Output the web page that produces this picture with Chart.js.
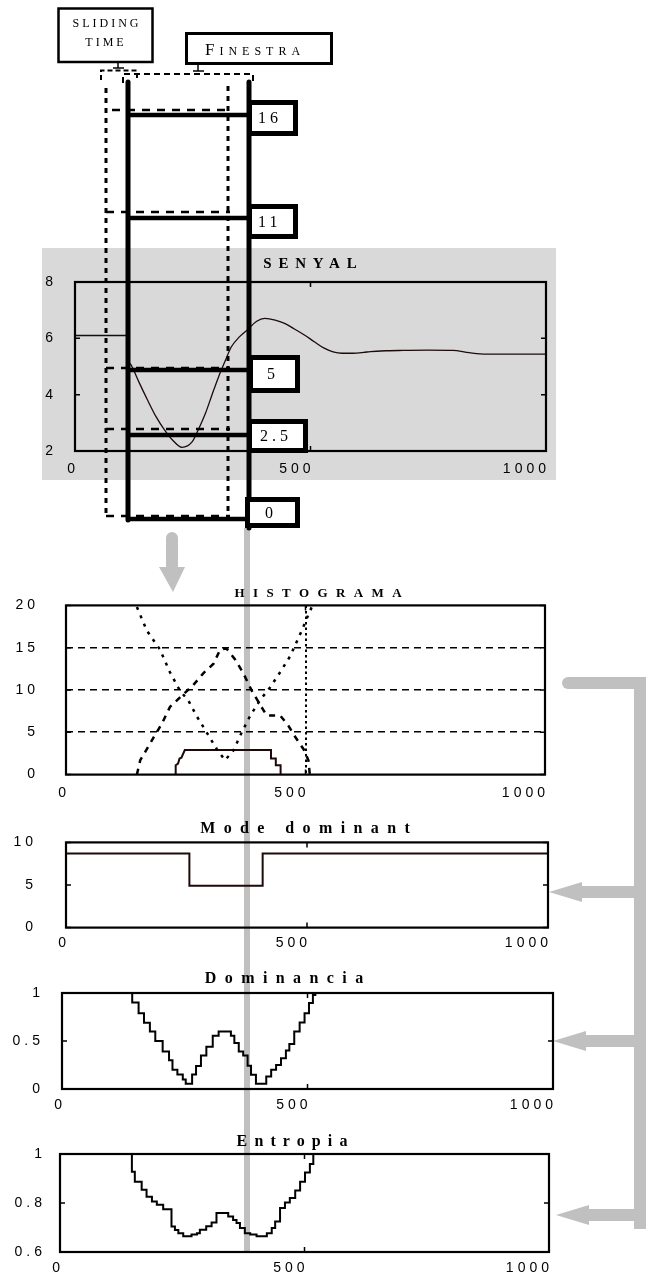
<!DOCTYPE html>
<html>
<head>
<meta charset="utf-8">
<title>Senyal - histograma - mode dominant</title>
<script src="https://cdn.jsdelivr.net/npm/chart.js@4.4.1/dist/chart.umd.min.js"></script>
<style>
  body { margin: 0; background: #fff; }
  #page { position: relative; width: 648px; height: 1278px; overflow: hidden; }
  #page canvas { position: absolute; }
</style>
</head>
<body>
<div id="page">
  <canvas id="back" width="648" height="1278" style="left:0px;top:0px"></canvas>
  <canvas id="senyal" width="514" height="232" style="left:42px;top:248px"></canvas>
  <canvas id="histo" width="648" height="240" style="left:0px;top:570px"></canvas>
  <canvas id="mode" width="648" height="160" style="left:0px;top:805px"></canvas>
  <canvas id="domin" width="648" height="155" style="left:0px;top:965px"></canvas>
  <canvas id="entro" width="648" height="158" style="left:0px;top:1120px"></canvas>
  <canvas id="front" width="648" height="1278" style="left:0px;top:0px"></canvas>
</div>
<script>
// ---- data ----
const senyalX = [0, 110, 113, 119, 137, 154, 172, 190, 207, 227, 249, 263, 277, 291, 305, 319, 332, 349, 366, 385,
                 403, 425, 445, 466, 487, 508, 529, 548, 567, 590, 613, 627, 662, 697, 750, 802, 837, 872, 1000];
const senyalY = [6.1, 6.1, 5.3, 5.06, 4.4, 3.81, 3.22, 2.75, 2.39, 2.13, 2.33, 2.8, 3.34, 4.0, 4.64, 5.2, 5.7, 6.05, 6.3, 6.6,
                 6.71, 6.65, 6.53, 6.33, 6.12, 5.88, 5.65, 5.52, 5.47, 5.47, 5.5, 5.53, 5.56, 5.57, 5.58, 5.57, 5.49, 5.44, 5.44];

// histogram: dotted "V", dashed "A" and the solid plateau
const histVX = [148, 169, 196, 217, 238, 255, 273, 301, 315, 332, 349, 367, 384, 405, 426, 447, 468, 492, 506, 513];
const histVY = [19.8, 17.0, 14.8, 12.1, 9.9, 8.8, 6.9, 4.3, 3.0, 1.7, 2.8, 5.0, 6.9, 8.8, 10.3, 12.1, 14.0, 17.0, 18.9, 19.8];
const histAX = [148, 155, 182, 200, 217, 245, 266, 287, 308, 322, 335, 353, 370, 388, 408, 419, 447, 464, 478, 496, 506, 509];
const histAY = [0, 1.7, 4.3, 6.0, 8.0, 9.5, 10.6, 12.0, 13.1, 14.8, 14.9, 13.6, 12.0, 9.9, 8.0, 7.0, 7.0, 5.8, 4.5, 3.0, 1.7, 0];
const histSX = [229, 229, 234, 237, 241, 248, 428, 428, 438, 438, 448, 448];
const histSY = [0, 1.1, 1.3, 1.9, 2.0, 2.9, 2.9, 1.9, 1.9, 1.1, 1.1, 0];
const histGridLevels = [5, 10, 15];

// step series: value holds from x[i] to x[i+1]
const modeX = [0, 256, 408, 1000];
const modeY = [8.7, 4.9, 8.7, 8.7];

const domX = [0, 143, 156, 167, 179, 190, 205, 218, 225, 235, 246, 252, 265, 273, 283, 294, 307, 319, 344, 351,
              360, 369, 378, 385, 395, 416, 426, 436, 446, 456, 463, 473, 484, 494, 503, 511, 516, 1000];
const domY = [1, 0.9, 0.79, 0.69, 0.6, 0.5, 0.39, 0.3, 0.2, 0.15, 0.1, 0.055, 0.15, 0.24, 0.35, 0.44, 0.555, 0.6, 0.555, 0.48,
              0.39, 0.35, 0.243, 0.149, 0.055, 0.13, 0.2, 0.25, 0.32, 0.4, 0.47, 0.6, 0.694, 0.79, 0.896, 0.98, 1, 1];

const entX = [0, 147, 153, 167, 177, 188, 198, 211, 228, 235, 242, 252, 269, 280, 286, 299, 310, 320, 344, 354,
              361, 368, 378, 389, 402, 423, 433, 440, 450, 460, 470, 481, 491, 501, 511, 518, 1000];
const entY = [1, 0.928, 0.887, 0.854, 0.826, 0.806, 0.793, 0.775, 0.704, 0.69, 0.677, 0.664, 0.671, 0.677, 0.691, 0.705, 0.72, 0.759, 0.745, 0.731,
              0.718, 0.698, 0.677, 0.671, 0.664, 0.677, 0.698, 0.725, 0.78, 0.802, 0.82, 0.851, 0.887, 0.924, 0.959, 1, 1];

const xTickStep = 500;
const titles = { senyal: 'SENYAL', histo: 'HISTOGRAMA', mode: 'Mode dominant', domin: 'Dominancia', entro: 'Entropia' };
const levelLabels = ['16', '11', '5', '2.5', '0'];
const slidingLabel = ['SLIDING', 'TIME'];
const finestraLabel = 'FINESTRA';

// ---- look ----
const SERIF = '"Liberation Serif", "Times New Roman", serif';
const SANS = '"Liberation Sans", Arial, sans-serif';
const TICK_SPACING = '4px';
const GRAY = '#c0c0c0';

const pts = (xs, ys) => xs.map((x, i) => ({ x: x, y: ys[i] }));

const framePlugin = {
  id: 'frame',
  beforeUpdate(chart) { chart.ctx.letterSpacing = TICK_SPACING; },
  beforeDraw(chart, args, opts) {
    const ctx = chart.ctx;
    ctx.letterSpacing = TICK_SPACING;
    if (opts.bg) {
      ctx.save();
      ctx.fillStyle = opts.bg;
      ctx.fillRect(0, 0, chart.width, chart.height);
      ctx.restore();
    }
  },
  afterDatasetsDraw(chart, args, opts) {
    const { ctx, chartArea: a, scales: { x, y } } = chart;
    ctx.save();
    ctx.strokeStyle = '#000';
    ctx.lineWidth = 1.5;
    ctx.beginPath();
    x.ticks.forEach(t => {
      const px = x.getPixelForValue(t.value);
      ctx.moveTo(px, a.top); ctx.lineTo(px, a.top + 5);
      ctx.moveTo(px, a.bottom); ctx.lineTo(px, a.bottom - 5);
    });
    y.ticks.forEach(t => {
      const py = y.getPixelForValue(t.value);
      ctx.moveTo(a.left, py); ctx.lineTo(a.left + 5, py);
      ctx.moveTo(a.right, py); ctx.lineTo(a.right - 5, py);
    });
    ctx.stroke();
    ctx.lineWidth = 2.2;
    ctx.strokeRect(a.left, a.top, a.right - a.left, a.bottom - a.top);

    ctx.font = opts.titleFont;
    ctx.letterSpacing = opts.titleSpacing + 'px';
    ctx.fillStyle = '#000';
    ctx.textBaseline = 'middle';
    ctx.textAlign = 'left';
    const w = ctx.measureText(opts.title).width - opts.titleSpacing;
    ctx.fillText(opts.title, opts.titleX - chart.canvas.offsetLeft - w / 2, a.top - opts.titleGap);
    ctx.restore();
  }
};

function plot(id, spec) {
  const canvas = document.getElementById(id);
  const offX = canvas.offsetLeft, offY = canvas.offsetTop;
  const [left, top, right, bottom] = spec.box;
  // y axis box reaches the canvas edge so its labels are not clipped
  const yWidth = left - offX;
  const below = canvas.height - (bottom - offY);
  const xHeight = Math.min(30, below);
  return new Chart(canvas, {
    type: 'line',
    data: { datasets: spec.datasets },
    options: {
      responsive: false,
      animation: false,
      events: [],
      layout: {
        padding: { left: 0, right: canvas.width - (right - offX), top: top - offY, bottom: below - xHeight }
      },
      elements: { point: { radius: 0 }, line: { tension: 0, borderColor: '#000', borderWidth: 2 } },
      scales: {
        x: {
          type: 'linear', min: 0, max: 1000,
          afterFit: s => { s.height = xHeight; },
          grid: spec.xGrid || { display: false, drawTicks: false },
          border: spec.xBorder || { display: false },
          ticks: {
            stepSize: xTickStep, align: 'end', labelOffset: 4, padding: spec.xPad,
            maxRotation: 0, autoSkip: false, color: '#000',
            font: { family: SANS, size: 14 },
            callback: v => String(v)
          }
        },
        y: {
          type: 'linear', min: spec.yMin, max: spec.yMax,
          afterFit: s => { s.width = yWidth; },
          grid: spec.yGrid || { display: false, drawTicks: false },
          border: spec.yBorder || { display: false },
          ticks: {
            stepSize: spec.yStep, padding: spec.yPad, color: '#000',
            font: { family: SANS, size: 14 },
            callback: v => String(Number(v.toFixed(2)))
          }
        }
      },
      plugins: { legend: { display: false }, tooltip: { enabled: false }, frame: spec.frame }
    },
    plugins: [framePlugin]
  });
}

plot('senyal', {
  box: [75, 282, 552, 451],
  yMin: 2, yMax: 8, yStep: 2, yPad: 18, xPad: 10,
  datasets: [{ data: pts(senyalX, senyalY), borderColor: '#1c0a0a', borderWidth: 1.3, cubicInterpolationMode: 'monotone' }],
  frame: { bg: '#d9d9d9', title: titles.senyal, titleFont: 'bold 15px ' + SERIF, titleSpacing: 6.8, titleX: 310, titleGap: 18 }
});

plot('histo', {
  box: [66, 597, 545, 775],
  yMin: 0, yMax: 20, yStep: 5, yPad: 27, xPad: 10,
  yGrid: {
    display: true, drawTicks: false, lineWidth: 1.6,
    color: c => (c.tick && histGridLevels.includes(c.tick.value)) ? '#000' : 'rgba(0,0,0,0)'
  },
  yBorder: { display: false, dash: [7, 5] },
  xGrid: {
    display: true, drawTicks: false, lineWidth: 2,
    color: c => (c.tick && c.tick.value === 500) ? '#000' : 'rgba(0,0,0,0)'
  },
  xBorder: { display: false, dash: [2.5, 3] },
  datasets: [
    { data: pts(histVX, histVY), borderWidth: 2.5, borderDash: [3, 6] },
    { data: pts(histAX, histAY), borderWidth: 2.5, borderDash: [6, 6] },
    { data: pts(histSX, histSY), borderWidth: 2, borderColor: '#1c0a0a' }
  ],
  frame: { title: titles.histo, titleFont: 'bold 13px ' + SERIF, titleSpacing: 8.4, titleX: 318, titleGap: 12 }
});

plot('mode', {
  box: [66, 841, 548, 934],
  yMin: 0, yMax: 10, yStep: 5, yPad: 29, xPad: 7,
  datasets: [{ data: pts(modeX, modeY), stepped: true, borderWidth: 2, borderColor: '#1c0a0a' }],
  frame: { title: titles.mode, titleFont: 'bold 16px ' + SERIF, titleSpacing: 8.4, titleX: 305, titleGap: 14 }
});

plot('domin', {
  box: [62, 993, 553, 1089],
  yMin: 0, yMax: 1, yStep: 0.5, yPad: 18, xPad: 8,
  datasets: [{ data: pts(domX, domY), stepped: true, borderWidth: 2 }],
  frame: { title: titles.domin, titleFont: 'bold 16px ' + SERIF, titleSpacing: 8.4, titleX: 284, titleGap: 14 }
});

plot('entro', {
  box: [60, 1154, 549, 1252],
  yMin: 0.6, yMax: 1, yStep: 0.2, yPad: 14, xPad: 8,
  datasets: [{ data: pts(entX, entY), stepped: true, borderWidth: 2 }],
  frame: { title: titles.entro, titleFont: 'bold 16px ' + SERIF, titleSpacing: 7.1, titleX: 292, titleGap: 12 }
});

// ---- diagram layers (sliding window, labels, arrows) ----
const oldWin = { left: 106, right: 228, top: 86, bottom: 516 };
const newWin = { left: 128, right: 249, top: 82, bottom: 520 };
const oldRungY = [110, 212, 368, 429, 516];
const newRungY = [115, 218, 370, 435, 519];
const levelBoxes = [[247, 100, 298, 136], [247, 204, 298, 239], [248, 355, 300, 393], [247, 419, 308, 453], [245, 497, 300, 528]];
const levelTextX = [258, 258, 267, 260, 265];
const arrowTargets = [[549, 892], [553, 1041], [556, 1215]];

function overlay(id, draw) {
  return new Chart(document.getElementById(id), {
    type: 'scatter',
    data: { datasets: [] },
    options: {
      responsive: false, animation: false, events: [],
      layout: { padding: 0 },
      scales: { x: { display: false }, y: { display: false } },
      plugins: { legend: { display: false }, tooltip: { enabled: false } }
    },
    plugins: [{ id: id + 'Draw', afterDraw: c => draw(c.ctx) }]
  });
}

function path(ctx, p) {
  ctx.beginPath();
  p.forEach((q, i) => i ? ctx.lineTo(q[0], q[1]) : ctx.moveTo(q[0], q[1]));
}

overlay('back', ctx => {
  ctx.save();
  ctx.fillStyle = GRAY;
  // window end carried down through the lower plots
  ctx.fillRect(244, 528, 6, 724);
  // down arrow below the window
  ctx.beginPath(); ctx.arc(172, 538, 6, 0, Math.PI * 2); ctx.fill();
  ctx.fillRect(166, 538, 12, 31);
  path(ctx, [[159, 567], [185, 567], [173, 592]]); ctx.fill();
  // right bracket with arrows
  ctx.beginPath(); ctx.arc(568, 683, 6, 0, Math.PI * 2); ctx.fill();
  ctx.fillRect(568, 677, 78, 12);
  ctx.fillRect(634, 677, 12, 552);
  arrowTargets.forEach(([tx, ty]) => {
    path(ctx, [[tx, ty], [tx + 33, ty - 10], [tx + 33, ty - 6], [640, ty - 6], [640, ty + 6], [tx + 33, ty + 6], [tx + 33, ty + 10]]);
    ctx.closePath(); ctx.fill();
  });
  ctx.restore();
});

overlay('front', ctx => {
  ctx.save();
  ctx.strokeStyle = '#000';
  ctx.fillStyle = '#000';
  const line = (p, w, dash, cap) => {
    ctx.lineWidth = w; ctx.setLineDash(dash || []); ctx.lineCap = cap || 'butt';
    path(ctx, p); ctx.stroke();
  };
  // previous window position (dotted)
  line([[oldWin.left, oldWin.top + 2], [oldWin.left, oldWin.bottom]], 3, [5, 5]);
  line([[oldWin.right, oldWin.top], [oldWin.right, oldWin.bottom]], 3, [5, 5]);
  oldRungY.forEach((y, i) => line([[i ? oldWin.left : 112, y], [oldWin.right + 2, y]], 2.5, [8, 7]));

  // brackets under the two caption boxes
  line([[118, 62], [118, 68]], 1.5); line([[113, 68], [124, 68]], 1.5);
  line([[101, 80], [101, 70.5], [137, 70.5], [137, 78]], 2, [5, 3]);
  line([[198, 64], [198, 71]], 1.5); line([[193, 71], [204, 71]], 1.5);
  line([[123, 83], [123, 74], [253, 74], [253, 83]], 2, [6, 4]);

  // current window (solid)
  line([[newWin.left, newWin.top], [newWin.left, newWin.bottom]], 5, null, 'round');
  line([[newWin.right, newWin.top], [newWin.right, 528]], 5, null, 'round');
  newRungY.forEach(y => line([[newWin.left, y], [newWin.right, y]], 4.5));

  // level boxes
  ctx.setLineDash([]);
  ctx.font = '16px ' + SERIF;
  ctx.letterSpacing = '4px';
  ctx.textBaseline = 'middle';
  levelBoxes.forEach((b, i) => {
    ctx.fillStyle = '#fff';
    ctx.fillRect(b[0], b[1], b[2] - b[0], b[3] - b[1]);
    ctx.lineWidth = 5;
    ctx.strokeRect(b[0] + 2.5, b[1] + 2.5, b[2] - b[0] - 5, b[3] - b[1] - 5);
    ctx.fillStyle = '#000';
    ctx.fillText(levelLabels[i], levelTextX[i], (b[1] + b[3]) / 2 + 1);
  });

  // caption boxes
  ctx.lineWidth = 2.5;
  ctx.strokeRect(58.5, 8.5, 94, 53.5);
  ctx.lineWidth = 3;
  ctx.strokeRect(186.5, 33.5, 145, 30);
  ctx.textBaseline = 'alphabetic';
  ctx.textAlign = 'center';
  ctx.font = '12px ' + SERIF;
  ctx.letterSpacing = '3px';
  ctx.fillText(slidingLabel[0], 107, 27);
  ctx.fillText(slidingLabel[1], 106, 46);
  ctx.textAlign = 'left';
  ctx.font = '17px ' + SERIF;
  ctx.letterSpacing = '5px';
  ctx.fillText(finestraLabel[0], 205, 55);
  const fw = ctx.measureText(finestraLabel[0]).width;
  ctx.font = '12px ' + SERIF;
  ctx.letterSpacing = '5px';
  ctx.fillText(finestraLabel.slice(1), 205 + fw, 55);
  ctx.restore();
});
</script>
</body>
</html>
